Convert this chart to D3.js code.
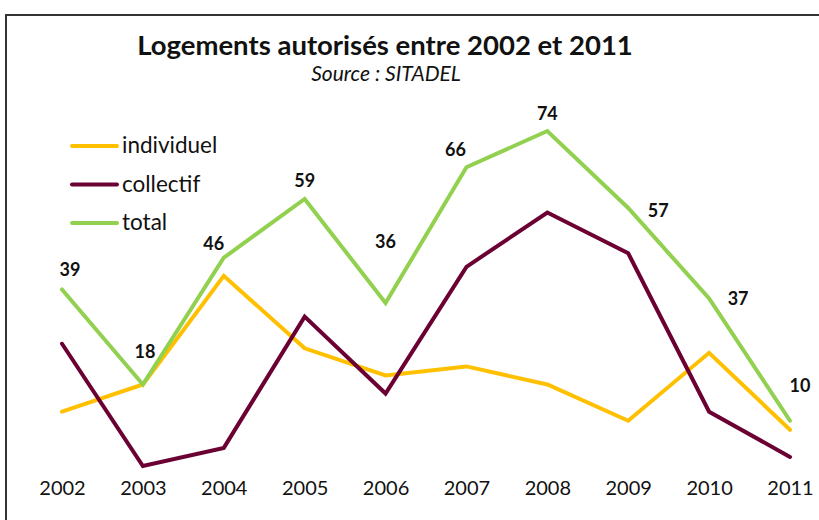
<!DOCTYPE html>
<html><head><meta charset="utf-8">
<script src="https://cdn.jsdelivr.net/npm/d3@7"></script>
<style>
html,body{margin:0;padding:0;background:#fff;}
svg{display:block;font-family:"Lato","DejaVu Sans",sans-serif;}
</style></head>
<body>
<svg id="c" width="819" height="520"></svg>
<script>
const years = ["2002","2003","2004","2005","2006","2007","2008","2009","2010","2011"];
const individuel = [12,18,42,26,20,22,18,10,25,8];
const collectif = [27,0,4,33,16,44,56,47,12,2];
const total = [39,18,46,59,36,66,74,57,37,10];
// label offsets (layout only)
const labelDx = [8,2,-10,0,0,-11,0,30,29,10];
const labelDy = [-13,-27,-8,-12,-55,-11,-11,9,6,-29];

const svg = d3.select("#c");
// frame
svg.append("path").attr("d","M6,520 V15 H819").attr("fill","none").attr("stroke","#333").attr("stroke-width",2);

const x = d3.scalePoint().domain(years).range([62,790]);
const y = d3.scaleLinear().domain([0,74]).range([466,131]);

const series = [
  {name:"individuel", values:individuel, color:"#FFC000"},
  {name:"collectif", values:collectif, color:"#6B0033"},
  {name:"total", values:total, color:"#92D050"}
];
const line = d3.line().x((d,i)=>x(years[i])).y(d=>y(d));
series.forEach(s=>{
  svg.append("path").datum(s.values).attr("d",line).attr("fill","none")
    .attr("stroke",s.color).attr("stroke-width",4).attr("stroke-linejoin","miter").attr("stroke-linecap","round");
});

// x axis labels
const xAxis = d3.axisBottom(x).tickSize(0).tickPadding(0);
const gx = svg.append("g").attr("transform","translate(0,481)").call(xAxis);
gx.select(".domain").remove();
gx.selectAll("text").attr("font-size",20).attr("font-family","Lato, DejaVu Sans, sans-serif").attr("fill","#111");

// data labels
svg.selectAll(".lbl").data(total).enter().append("text")
  .attr("x",(d,i)=>x(years[i])+labelDx[i]).attr("y",(d,i)=>y(d)+labelDy[i])
  .attr("text-anchor","middle").attr("font-weight","bold").attr("font-size",18).attr("fill","#111")
  .text(d=>d);

// title
svg.append("text").attr("x",385).attr("y",55).attr("text-anchor","middle")
  .attr("font-weight","bold").attr("font-size",27.5).attr("fill","#111").text("Logements autorisés entre 2002 et 2011");
svg.append("text").attr("x",386).attr("y",81).attr("text-anchor","middle")
  .attr("font-style","italic").attr("font-size",21).attr("fill","#111").text("Source : SITADEL");

// legend
const lg = svg.append("g");
series.forEach((s,i)=>{
  const yy = 146 + i*38.5;
  lg.append("line").attr("x1",72).attr("x2",117).attr("y1",yy).attr("y2",yy)
    .attr("stroke",s.color).attr("stroke-width",4).attr("stroke-linecap","round");
  lg.append("text").attr("x",122).attr("y",yy+7).attr("font-size",22.5).attr("fill","#111").text(s.name);
});
</script>
</body></html>
